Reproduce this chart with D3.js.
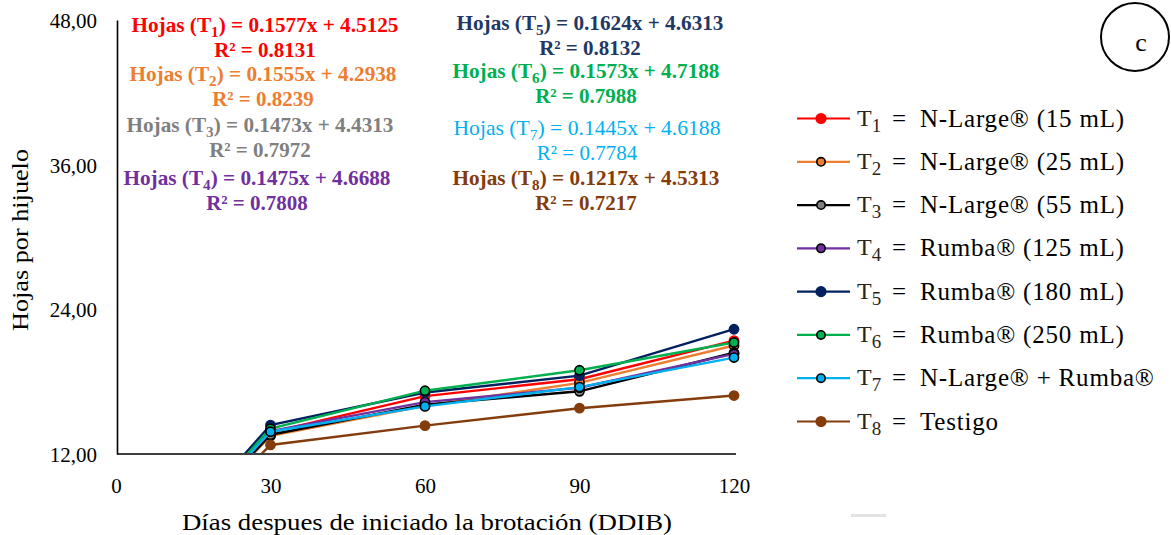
<!DOCTYPE html>
<html>
<head>
<meta charset="utf-8">
<script src="https://cdn.jsdelivr.net/npm/d3@7"></script>
<style>
    html, body { margin: 0; padding: 0; background: #fff; }
    svg text { font-family: "Liberation Serif", "Times New Roman", serif; }
</style>
</head>
<body>
<div class="svg-container"></div>
<script>
// Data
const days = [0, 30, 60, 90, 120];
const yTicks = [12, 24, 36, 48];
const seriesIds = ['1', '2', '3', '4', '5', '6', '7', '8'];
const t1 = [0, 13.8, 16.8, 18.2, 21.4];
const t2 = [0, 13.5, 16.0, 17.9, 21.0];
const t3 = [0, 13.6, 16.1, 17.2, 20.4];
const t4 = [0, 13.9, 16.3, 17.5, 20.3];
const t5 = [0, 14.4, 17.1, 18.5, 22.35];
const t6 = [0, 14.1, 17.25, 18.95, 21.25];
const t7 = [0, 13.85, 15.95, 17.55, 20.0];
const t8 = [0, 12.75, 14.35, 15.8, 16.85];
const legendLabels = ['N-Large® (15 mL)', 'N-Large® (25 mL)', 'N-Large® (55 mL)', 'Rumba® (125 mL)',
                      'Rumba® (180 mL)', 'Rumba® (250 mL)', 'N-Large® + Rumba®', 'Testigo'];
const slopes = ['0.1577', '0.1555', '0.1473', '0.1475', '0.1624', '0.1573', '0.1445', '0.1217'];
const intercepts = ['4.5125', '4.2938', '4.4313', '4.6688', '4.6313', '4.7188', '4.6188', '4.5313'];
const rSquared = ['0.8131', '0.8239', '0.7972', '0.7808', '0.8132', '0.7988', '0.7784', '0.7217'];

/**
 * Chart Manager
 *          draws the leaves per sucker line chart
 */
const chartManager = (() => {
    const SCREEN = Object.assign({}, { WIDTH: 1171, HEIGHT: 535 });

    // styles for each treatment
    const STYLE = [
        { line: '#ff0000', fill: '#ff0000', stroke: '#ff0000', text: '#ff0000', bold: true },
        { line: '#ed7d31', fill: '#ed7d31', stroke: '#000', text: '#ed7d31', bold: true },
        { line: '#000000', fill: '#808080', stroke: '#000', text: '#7f7f7f', bold: true },
        { line: '#7030a0', fill: '#7030a0', stroke: '#000', text: '#7030a0', bold: true },
        { line: '#002060', fill: '#002060', stroke: '#002060', text: '#1f3864', bold: true },
        { line: '#00b050', fill: '#00b050', stroke: '#000', text: '#00b050', bold: true },
        { line: '#00b0f0', fill: '#00b0f0', stroke: '#000', text: '#00b0f0', bold: false },
        { line: '#843c0c', fill: '#843c0c', stroke: '#843c0c', text: '#843c0c', bold: true }
    ];

    const x = d3.scaleLinear().domain([0, 120]).range([116, 734]);
    const y = d3.scaleLinear().domain([12, 48]).range([454, 20]);

    const initSVG = () => {
        return d3.select('.svg-container').append('svg')
                 .attr('width', SCREEN.WIDTH)
                 .attr('height', SCREEN.HEIGHT);
    };

    /**
     * Axes with no tick marks, only labels
     */
    const drawAxes = (svg) => {
        const yAxis = svg.append('g').attr('transform', `translate(${x(0) + 1},0)`)
            .call(d3.axisLeft(y).tickValues(yTicks).tickSize(0).tickPadding(20)
                    .tickFormat(d => d3.format('.2f')(d).replace('.', ',')));
        yAxis.select('.domain').attr('stroke', '#000').attr('stroke-width', 1.6);
        yAxis.selectAll('text').attr('font-size', 21).attr('fill', '#000')
             .attr('font-family', '"Liberation Serif", serif').attr('dy', '0.35em');

        const xAxis = svg.append('g').attr('transform', `translate(0,${y(12)})`)
            .call(d3.axisBottom(x).tickValues(days).tickSize(0).tickPadding(24));
        xAxis.select('.domain').attr('stroke', '#000').attr('stroke-width', 1.6)
             .attr('d', `M${x(0) + 1},0H${x(120) + 2}`);
        xAxis.selectAll('text').attr('font-size', 21).attr('fill', '#000')
             .attr('font-family', '"Liberation Serif", serif');

        svg.append('text').attr('transform', 'translate(28,240) rotate(-90)')
           .attr('text-anchor', 'middle').attr('font-size', 23)
           .attr('textLength', 182).attr('lengthAdjust', 'spacingAndGlyphs')
           .text('Hojas por hijuelo');

        svg.append('text').attr('x', 427).attr('y', 530)
           .attr('text-anchor', 'middle').attr('font-size', 24)
           .attr('textLength', 490).attr('lengthAdjust', 'spacingAndGlyphs')
           .text('Días despues de iniciado la brotación (DDIB)');
    };

    /**
     * Lines and markers, clipped at the plot area
     */
    const drawSeries = (svg) => {
        const all = [t1, t2, t3, t4, t5, t6, t7, t8];
        svg.append('clipPath').attr('id', 'plot-clip')
           .append('rect').attr('x', x(0)).attr('y', 0)
           .attr('width', x(120) - x(0) + 12).attr('height', y(12) - 1);

        const plot = svg.append('g').attr('clip-path', 'url(#plot-clip)');
        const line = d3.line().x((d, i) => x(days[i])).y(d => y(d));

        all.forEach((vals, k) => {
            const st = STYLE[k];
            const g = plot.append('g');
            g.append('path').attr('d', line(vals))
             .attr('fill', 'none').attr('stroke', st.line).attr('stroke-width', 2.4);
            g.selectAll('circle').data(vals).enter().append('circle')
             .attr('cx', (d, i) => x(days[i])).attr('cy', d => y(d))
             .attr('r', 4.6).attr('fill', st.fill)
             .attr('stroke', st.stroke).attr('stroke-width', 1.6);
        });
    };

    /**
     * Equations in two columns
     */
    const drawEquations = (svg) => {
        const cols = [[265, 263, 260, 257], [590, 586, 587, 586]];
        const rows = [[32, 81, 132, 185], [30, 78, 135, 185]];
        seriesIds.forEach((id, k) => {
            const st = STYLE[k];
            const c = Math.floor(k / 4), r = k % 4;
            const cx = cols[c][r], by = rows[c][r];
            const eq = svg.append('text').attr('x', cx).attr('y', by)
                .attr('text-anchor', 'middle').attr('font-size', 21)
                .attr('font-weight', st.bold ? 'bold' : 'normal').attr('fill', st.text)
                .attr('textLength', 267).attr('lengthAdjust', 'spacingAndGlyphs');
            eq.append('tspan').text('Hojas (T');
            eq.append('tspan').attr('font-size', 15).attr('dy', 5).text(id);
            eq.append('tspan').attr('dy', -5).text(`) = ${slopes[k]}x + ${intercepts[k]}`);

            svg.append('text').attr('x', cx).attr('y', by + 25)
               .attr('text-anchor', 'middle').attr('font-size', 21)
               .attr('font-weight', st.bold ? 'bold' : 'normal').attr('fill', st.text)
               .text(`R² = ${rSquared[k]}`);
        });
    };

    const drawLegend = (svg) => {
        const ly = d3.scaleLinear().domain([0, 7]).range([118.5, 421.5]);
        seriesIds.forEach((id, k) => {
            const st = STYLE[k];
            const g = svg.append('g').attr('transform', `translate(0,${ly(k)})`);
            g.append('line').attr('x1', 797).attr('x2', 850)
             .attr('stroke', st.line).attr('stroke-width', 2.2);
            g.append('circle').attr('cx', 821).attr('r', k === 0 || k === 4 || k === 7 ? 4.8 : 4.2)
             .attr('fill', st.fill).attr('stroke', st.stroke).attr('stroke-width', 1.6);

            const t = g.append('text').attr('x', 857).attr('y', 7).attr('font-size', 24).attr('fill', '#2b2418');
            t.append('tspan').text('T');
            t.append('tspan').attr('font-size', 19).attr('dy', 6).text(id);

            g.append('text').attr('x', 892).attr('y', 8).attr('font-size', 25).text('=');
            g.append('text').attr('x', 920).attr('y', 8).attr('font-size', 25)
             .attr('letter-spacing', 0.8).text(legendLabels[k]);
        });
    };

    const drawBadge = (svg) => {
        svg.append('circle').attr('cx', 1135).attr('cy', 37).attr('r', 34)
           .attr('fill', 'none').attr('stroke', '#000').attr('stroke-width', 2);
        svg.append('text').attr('x', 1141).attr('y', 51).attr('text-anchor', 'middle')
           .attr('font-size', 26).text('c');
        // faint stray mark under the legend
        svg.append('rect').attr('x', 851).attr('y', 514).attr('width', 35).attr('height', 3)
           .attr('fill', '#e3e3e3');
    };

    const init = () => {
        const svg = initSVG();
        drawSeries(svg);
        drawAxes(svg);
        drawEquations(svg);
        drawLegend(svg);
        drawBadge(svg);
    };

    return { init: init };
})();

chartManager.init();
</script>
</body>
</html>
